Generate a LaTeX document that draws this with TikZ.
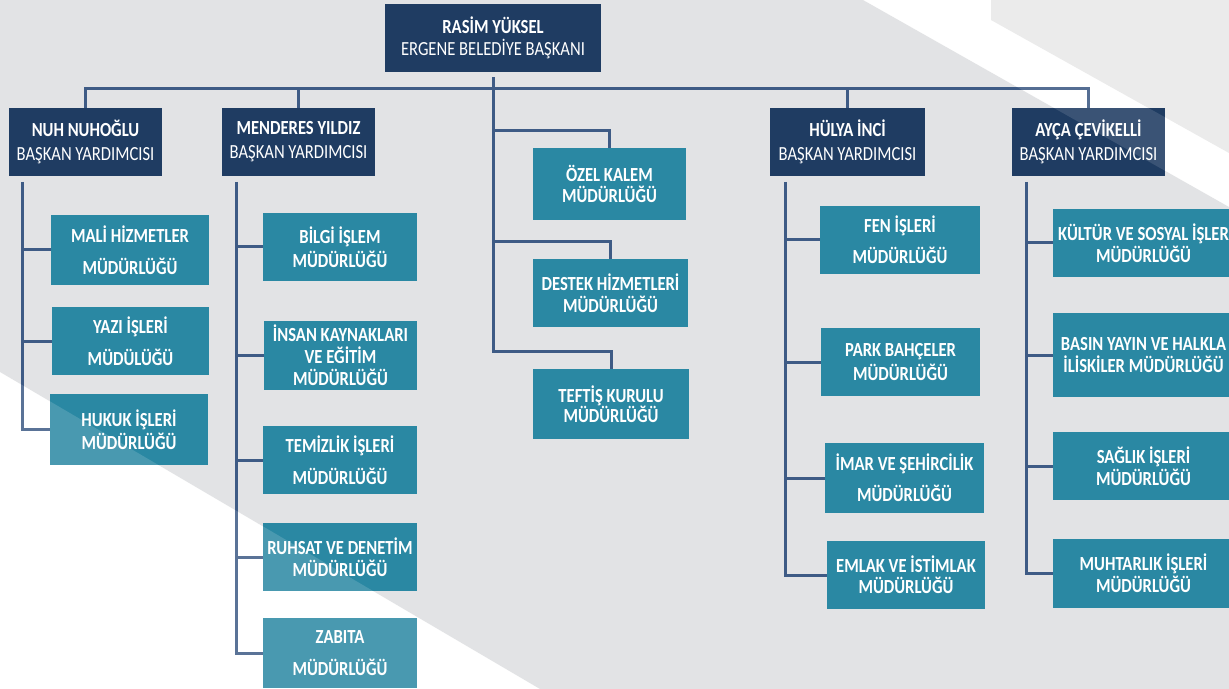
\documentclass[tikz,border=0pt]{standalone}
\usepackage{fontspec}
\newfontfamily\orgfont{Carlito}[FakeStretch=0.83]
\definecolor{cnavy}{HTML}{1F3C62}
\definecolor{cteal}{HTML}{2A88A3}
\definecolor{cline}{HTML}{3E5B85}
\definecolor{cgrey}{HTML}{E2E3E5}
\definecolor{cgreyb}{HTML}{EBEBEB}
\begin{document}
\begin{tikzpicture}[x=0.5pt,y=-0.5pt,
  conn/.style={draw=cline, line width=1.5pt},
  sz/.style 2 args={minimum width=#1*0.5pt, minimum height=#2*0.5pt},
  navybox/.style={fill=cnavy, text=white, inner sep=0pt, align=center,
    font=\orgfont\fontsize{10pt}{12pt}\selectfont},
  tealbox/.style={fill=cteal, text=white, inner sep=0pt, align=center,
    font=\orgfont\bfseries\fontsize{10pt}{12pt}\selectfont}]
\useasboundingbox (0,0) rectangle (1229,689);
\clip (0,0) rectangle (1229,689);
% background
\fill[white] (0,0) rectangle (1229,689);
\fill[cgrey] (0,0) -- (863,0) -- (1229,207) -- (1229,689) -- (540,689) -- (0,372) -- cycle;
\fill[cgreyb] (991,0) -- (1229,0) -- (1229,153) -- (991,20) -- cycle;

% top level
\node[navybox, sz={216}{68}] (top) at (493,38) {{\bfseries RASİM YÜKSEL}\\[-1pt]ERGENE BELEDİYE BAŞKANI};
\node[navybox, sz={153}{68}] (nuh) at (85.5,142) {{\bfseries NUH NUHOĞLU}\\BAŞKAN YARDIMCISI};
\node[navybox, sz={153}{68}] (menderes) at (298.5,142) {{\bfseries MENDERES YILDIZ}\\BAŞKAN YARDIMCISI};
\node[navybox, sz={155}{68}] (hulya) at (847.5,142) {{\bfseries HÜLYA İNCİ}\\BAŞKAN YARDIMCISI};
\node[navybox, sz={153}{68}] (ayca) at (1088.5,142) {{\bfseries AYÇA ÇEVİKELLİ}\\BAŞKAN YARDIMCISI};

% Nuh column
\node[tealbox, sz={158}{70}] (mali) at (130,250) {MALİ HİZMETLER\\[4pt]MÜDÜRLÜĞÜ};
\node[tealbox, sz={157}{68}] (yazi) at (130.5,341) {YAZI İŞLERİ\\[4pt]MÜDÜLÜĞÜ};
\node[tealbox, sz={158}{71}] (hukuk) at (129,429.5) {HUKUK İŞLERİ\\[-0.5pt]MÜDÜRLÜĞÜ};

% Menderes column
\node[tealbox, sz={154}{68}] (bilgi) at (340,247) {BİLGİ İŞLEM\\MÜDÜRLÜĞÜ};
\node[tealbox, sz={153}{69}] (insan) at (340.5,355.5) {İNSAN KAYNAKLARI\\[-1pt]VE EĞİTİM\\[-1pt]MÜDÜRLÜĞÜ};
\node[tealbox, sz={154}{68}] (temizlik) at (340,460) {TEMİZLİK İŞLERİ\\[4pt]MÜDÜRLÜĞÜ};
\node[tealbox, sz={154}{68}] (ruhsat) at (340,557) {RUHSAT VE DENETİM\\[-1pt]MÜDÜRLÜĞÜ};
\node[tealbox, sz={154}{70}] (zabita) at (340,653) {ZABITA\\[4pt]MÜDÜRLÜĞÜ};

% middle column
\node[tealbox, sz={153}{72}] (ozel) at (609.5,184) {ÖZEL KALEM\\[-1.5pt]MÜDÜRLÜĞÜ};
\node[tealbox, sz={155}{68}] (destek) at (610.5,293) {DESTEK HİZMETLERİ\\[-1pt]MÜDÜRLÜĞÜ};
\node[tealbox, sz={156}{70}] (teftis) at (611,404) {TEFTİŞ KURULU\\[-2pt]MÜDÜRLÜĞÜ};

% Hulya column
\node[tealbox, sz={160}{68}] (fen) at (900,240) {FEN İŞLERİ\\[3.5pt]MÜDÜRLÜĞÜ};
\node[tealbox, sz={159}{68}] (park) at (900.5,362) {PARK BAHÇELER\\MÜDÜRLÜĞÜ};
\node[tealbox, sz={159}{70}] (imar) at (904.5,478) {İMAR VE ŞEHİRCİLİK\\[3.5pt]MÜDÜRLÜĞÜ};
\node[tealbox, sz={158}{68}] (emlak) at (906,575) {EMLAK VE İSTİMLAK\\[-1.5pt]MÜDÜRLÜĞÜ};

% Ayca column
\node[tealbox, sz={181}{68}] (kultur) at (1143.5,243) {KÜLTÜR VE SOSYAL İŞLER\\[-1pt]MÜDÜRLÜĞÜ};
\node[tealbox, sz={181}{84}] (basin) at (1143.5,355) {BASIN YAYIN VE HALKLA\\[-1pt]İLİSKİLER MÜDÜRLÜĞÜ};
\node[tealbox, sz={181}{68}] (saglik) at (1143.5,466) {SAĞLIK İŞLERİ\\[-1pt]MÜDÜRLÜĞÜ};
\node[tealbox, sz={181}{69}] (muhtar) at (1143.5,573.5) {MUHTARLIK İŞLERİ\\[-1pt]MÜDÜRLÜĞÜ};

% connectors
\coordinate (bus) at (492,89);
\draw[conn] (nuh.north) |- (bus) -| (ayca.north);
\draw[conn] (menderes.north) -- (menderes.north |- bus);
\draw[conn] (hulya.north) -- (hulya.north |- bus);

\coordinate (ozy) at ([yshift=8.5pt]ozel.north);
\coordinate (dey) at ([yshift=8.5pt]destek.north);
\coordinate (tey) at ([yshift=8.5pt]teftis.north);
\draw[conn] ([yshift=-2.5pt]top.south) -- (top.south |- tey) -| (teftis.north);
\draw[conn] (top.south |- ozy) -| (ozel.north);
\draw[conn] (top.south |- dey) -| (destek.north);

\coordinate (nuhs) at (22,182);
\draw[conn] (nuhs) |- (hukuk.west);
\draw[conn] (nuhs |- mali.west) -- (mali.west);
\draw[conn] (nuhs |- yazi.west) -- (yazi.west);

\coordinate (mens) at (236,182);
\draw[conn] (mens) |- (zabita.west);
\foreach \n in {bilgi,insan,temizlik,ruhsat}
  \draw[conn] (mens |- \n.west) -- (\n.west);

\coordinate (huls) at (785,182);
\draw[conn] (huls) |- (emlak.west);
\foreach \n in {fen,park,imar}
  \draw[conn] (huls |- \n.west) -- (\n.west);

\coordinate (ayds) at (1026,182);
\draw[conn] (ayds) |- (muhtar.west);
\foreach \n in {kultur,basin,saglik}
  \draw[conn] (ayds |- \n.west) -- (\n.west);

% light overlays
\fill[white, opacity=0.15] (0,372) -- (540,689) -- (0,689) -- cycle;
\fill[white, opacity=0.12] (863,0) -- (991,0) -- (991,20) -- (1229,153) -- (1229,207) -- cycle;
\end{tikzpicture}
\end{document}
